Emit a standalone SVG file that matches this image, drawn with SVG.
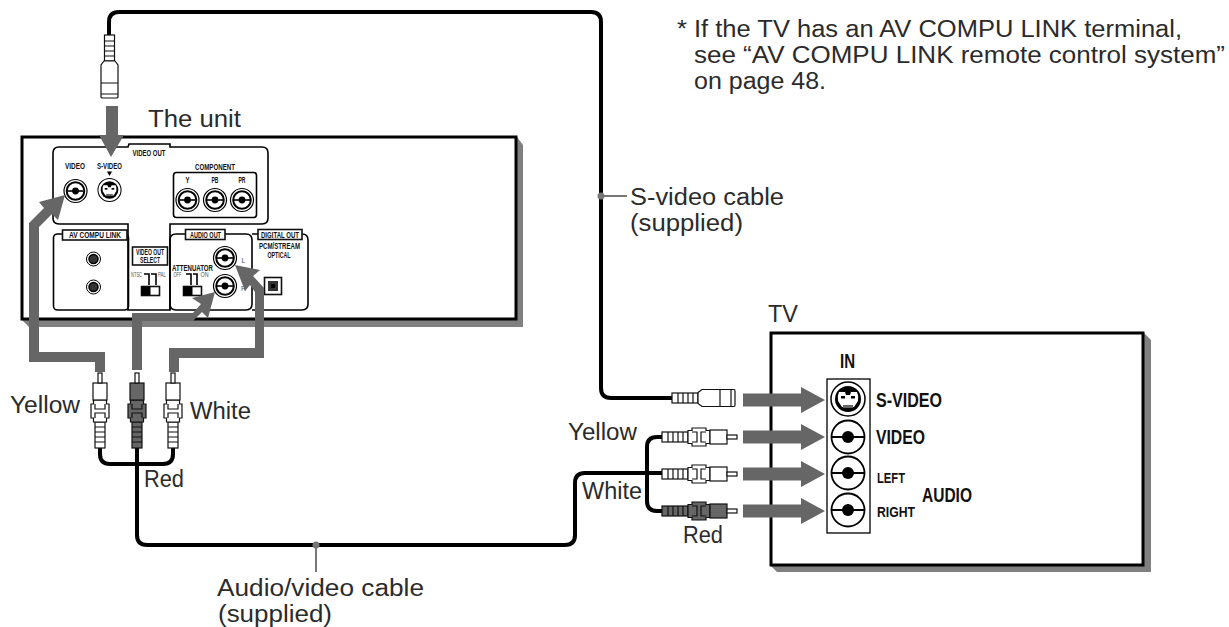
<svg xmlns="http://www.w3.org/2000/svg" width="1229" height="627" viewBox="0 0 1229 627">
<style>
text{font-family:"Liberation Sans",Arial,sans-serif;fill:#2b2b2b}
.l{font-size:23.500px}
.b{font-weight:bold;fill:#111}
.bl{font-size:20px}
.bs{font-size:15.500px}
.t{font-size:8.500px;text-anchor:middle}
.g{font-weight:normal;fill:#555;font-size:7px;text-anchor:middle}
.p{fill:#fff;stroke:#111;stroke-width:1.6}
.k{fill:none;stroke:#000;stroke-width:1.6}
.c{fill:none;stroke:#000;stroke-width:4}
.a{fill:#666}
.sh{fill:#808080}
.box{fill:#fff;stroke:#000;stroke-width:3}
</style>
<defs>
<g id="jack"><circle r="16.500" fill="#fff" stroke="#000" stroke-width="1.800"/><path d="M-16 0H16" stroke="#000" stroke-width="2"/><circle r="6" fill="#000"/></g>
<g id="sjack"><circle r="17" fill="#fff" stroke="#000" stroke-width="1.500"/><circle r="13" fill="#000"/><path d="M-9-7H-3L-2-4H2L3-7H9Q11-3 10 2L6 8H-6L-10 2Q-11-3-9-7Z" fill="#fff"/><rect x="-7" y="-3" width="4" height="2.500" fill="#000"/><rect x="3" y="-3" width="4" height="2.500" fill="#000"/><rect x="-5" y="6" width="10" height="3" fill="#666"/></g>
<g id="mj"><circle r="11.500" fill="#fff" stroke="#000" stroke-width="1.200"/><circle r="8.800" fill="#fff" stroke="#000" stroke-width="2"/><path d="M-8 0H8" stroke="#000" stroke-width="1.600"/><circle r="3.400" fill="#000"/></g>
<g id="rca" stroke="#111" stroke-width="1.200" fill="currentColor">
<rect x="0" y="-5" width="26" height="10"/>
<path d="M6-5V5M11-5V5M16-5V5M21-5V5" fill="none"/>
<path d="M26-6.500H30V-9H44V-6.500H48V6.500H44V9H30V6.500H26Z"/>
<path d="M30-5H35V5H30M44-5H39V5H44" fill="none"/>
<rect x="48" y="-7" width="17" height="14"/>
<rect x="65" y="-2" width="10" height="4" fill="#fff"/>
</g>
<g id="splug" stroke="#111" stroke-width="1.200" fill="#fff">
<rect x="0" y="-5" width="26" height="10"/>
<path d="M6-5V5M11-5V5M16-5V5M21-5V5" fill="none"/>
<path d="M26-5.500L30-8.500H62Q63-8.500 63-7V7Q63 8.500 62 8.500H30L26 5.500Z"/>
<path d="M48-8.500V8.500M59-8.500V8.500" fill="none"/>
</g>
<path id="arr" class="a" d="M0-6.500H58V-13L82 0 58 13V6.500H0Z"/>
</defs>

<g id="unit">
<path class="sh" d="M517 137L523 145V327H29L21 319Z"/>
<rect class="box" x="22" y="137" width="494" height="182"/>
<path class="k" d="M128 147H59Q53 147 53 153V218Q53 224 59 224H128V310H170V224H262Q268 224 268 218V153Q268 147 262 147H170V144H129Z"/>
<text class="b t" x="149" y="155.500" textLength="33" lengthAdjust="spacingAndGlyphs">VIDEO OUT</text>
<text class="b t" x="75" y="169" textLength="20" lengthAdjust="spacingAndGlyphs">VIDEO</text>
<text class="b t" x="109.500" y="169" textLength="25" lengthAdjust="spacingAndGlyphs">S-VIDEO</text>
<path d="M107 171.500H112L109.500 176Z" fill="#000"/>
<text class="b t" x="215" y="170" textLength="40" lengthAdjust="spacingAndGlyphs">COMPONENT</text>
<rect class="k" x="173.500" y="172.500" width="83" height="45" rx="3"/>
<text class="b t" x="187.500" y="183" textLength="4" lengthAdjust="spacingAndGlyphs">Y</text>
<text class="b t" x="215" y="183" textLength="7" lengthAdjust="spacingAndGlyphs">PB</text>
<text class="b t" x="242" y="183" textLength="7" lengthAdjust="spacingAndGlyphs">PR</text>
<use href="#mj" x="75.500" y="191"/>
<use href="#sjack" transform="translate(109.500 190) scale(.68)"/>
<use href="#mj" x="187.500" y="200"/>
<use href="#mj" x="215" y="200"/>
<use href="#mj" x="242" y="200"/>
<rect class="k" x="53.500" y="234" width="75" height="76" rx="4"/>
<rect class="p" x="62.500" y="230" width="64.500" height="10"/>
<text class="b t" x="95" y="238" textLength="52" lengthAdjust="spacingAndGlyphs">AV COMPU LINK</text>
<g fill="#fff" stroke="#000"><circle cx="93.500" cy="259" r="7"/><circle cx="93.500" cy="259" r="4.500" fill="#333" stroke-width="1.500"/><circle cx="93.500" cy="287" r="7"/><circle cx="93.500" cy="287" r="4.500" fill="#333" stroke-width="1.500"/></g>
<rect class="p" x="132.500" y="247" width="35" height="18"/>
<text class="b t" x="150" y="255" textLength="28" lengthAdjust="spacingAndGlyphs">VIDEO OUT</text>
<text class="b t" x="150" y="263" textLength="20" lengthAdjust="spacingAndGlyphs">SELECT</text>
<text class="g" x="136.500" y="277" textLength="11" lengthAdjust="spacingAndGlyphs">NTSC</text>
<text class="g" x="162" y="277" textLength="8" lengthAdjust="spacingAndGlyphs">PAL</text>
<path class="k" d="M144 274H149V285M156 285V274H151"/>
<rect class="p" x="141.500" y="286.500" width="18" height="9"/><rect x="141.500" y="286.500" width="9" height="9" fill="#000"/>
<path class="k" d="M170 310V240Q170 234 176 234H246Q252 234 252 240V304Q252 310 246 310H176Q170 310 170 304"/>
<rect class="p" x="185.500" y="229.500" width="39.500" height="10"/>
<text class="b t" x="205.500" y="237.500" textLength="31" lengthAdjust="spacingAndGlyphs">AUDIO OUT</text>
<text class="b t" x="192.500" y="271" textLength="41" lengthAdjust="spacingAndGlyphs">ATTENUATOR</text>
<text class="g" x="177.500" y="277" textLength="8" lengthAdjust="spacingAndGlyphs">OFF</text>
<text class="g" x="204.500" y="277" textLength="8" lengthAdjust="spacingAndGlyphs">ON</text>
<path class="k" d="M186 274H191V285M197 285V274H193"/>
<rect class="p" x="183.500" y="286.500" width="18" height="9"/><rect x="183.500" y="286.500" width="9" height="9" fill="#000"/>
<use href="#mj" x="225" y="258"/>
<use href="#mj" x="225" y="286"/>
<text class="g" x="243.500" y="263">L</text>
<text class="g" x="243.500" y="291">R</text>
<path class="k" d="M252 234H302Q308 234 308 240V304Q308 310 302 310H252"/>
<rect class="p" x="258" y="229.500" width="44" height="10"/>
<text class="b t" x="280" y="237.500" textLength="38" lengthAdjust="spacingAndGlyphs">DIGITAL OUT</text>
<text class="b t" x="279.500" y="249" textLength="41" lengthAdjust="spacingAndGlyphs">PCM/STREAM</text>
<text class="b t" x="279" y="258" textLength="23" lengthAdjust="spacingAndGlyphs">OPTICAL</text>
<rect class="p" x="264.500" y="277.500" width="17" height="17"/>
<rect x="268" y="281" width="10" height="10" fill="#333"/><rect x="271" y="284" width="4" height="4" fill="#000"/>
<text class="l" x="148" y="127" textLength="93" lengthAdjust="spacingAndGlyphs">The unit</text>
</g>

<g id="tv">
<path class="sh" d="M1144 333L1151 340V572H777L770 565Z"/>
<rect class="box" x="771" y="333" width="372" height="232"/>
<text class="l" x="768" y="322" textLength="30" lengthAdjust="spacingAndGlyphs">TV</text>
<rect x="827" y="379" width="43" height="154" fill="#fff" stroke="#000" stroke-width="1.300"/>
<use href="#sjack" x="848" y="399"/>
<use href="#jack" x="848" y="437"/>
<use href="#jack" x="848" y="473"/>
<use href="#jack" x="848" y="510"/>
<text class="b bl" x="840" y="368" textLength="15" lengthAdjust="spacingAndGlyphs">IN</text>
<text class="b bl" x="876" y="407" textLength="66" lengthAdjust="spacingAndGlyphs">S-VIDEO</text>
<text class="b bl" x="876" y="444" textLength="49" lengthAdjust="spacingAndGlyphs">VIDEO</text>
<text class="b bs" x="877" y="483" textLength="28" lengthAdjust="spacingAndGlyphs">LEFT</text>
<text class="b bs" x="877" y="517" textLength="38" lengthAdjust="spacingAndGlyphs">RIGHT</text>
<text class="b bl" x="922" y="502" textLength="50" lengthAdjust="spacingAndGlyphs">AUDIO</text>
</g>

<g id="connectors">
<path class="c" d="M109 35V22Q109 12 119 12H591Q601 12 601 22V388Q601 398 611 398H672"/>
<path class="c" d="M100 448V454Q100 464 110 464H163Q173 464 173 454V448M137 448V535Q137 545 147 545H565Q575 545 575 535V483Q575 473 585 473H662"/>
<path class="c" d="M662 437H657Q647 437 647 447V501Q647 511 657 511H662"/>
<path d="M601 196H627M316 545V572" fill="none" stroke="#777" stroke-width="2"/>
<circle cx="601" cy="196" r="3.500" fill="#777"/><circle cx="316" cy="545" r="3.500" fill="#777"/>
<path class="a" d="M106 106H118V135H124L111 157 99 135H106Z"/>
<path class="a" d="M105 372V352H39V227L52 214 58 220 65 195 39 202 44 208 29 223V362H95V372Z"/>
<path class="a" d="M132 370V313H193L201 304 192 298 215 292 208 318 202 312 193 321H142V370Z"/>
<path class="a" d="M169 372V348H255V292L250 285 245 291 235 265 260 270 253 276 264 288V358H179V372Z"/>
<use href="#arr" x="743" y="400"/>
<use href="#arr" x="743" y="437"/>
<use href="#arr" x="743" y="474"/>
<use href="#arr" x="743" y="511"/>
</g>

<g id="plugs">
<use href="#splug" transform="translate(109.500 35) rotate(90)"/>
<use href="#rca" color="#fff" transform="translate(100 448) rotate(-90)"/>
<use href="#rca" color="#666" transform="translate(137 448) rotate(-90)"/>
<use href="#rca" color="#fff" transform="translate(173 448) rotate(-90)"/>
<use href="#splug" x="672" y="398"/>
<use href="#rca" color="#fff" x="662" y="437"/>
<use href="#rca" color="#fff" x="662" y="474"/>
<use href="#rca" color="#666" x="662" y="511"/>
</g>

<g id="labels">
<text class="l" x="677" y="37" textLength="505" lengthAdjust="spacingAndGlyphs">* If the TV has an AV COMPU LINK terminal,</text>
<text class="l" x="694" y="63" textLength="531" lengthAdjust="spacingAndGlyphs">see “AV COMPU LINK remote control system”</text>
<text class="l" x="694" y="89" textLength="132" lengthAdjust="spacingAndGlyphs">on page 48.</text>
<text class="l" x="630" y="205" textLength="154" lengthAdjust="spacingAndGlyphs">S-video cable</text>
<text class="l" x="630" y="231" textLength="113" lengthAdjust="spacingAndGlyphs">(supplied)</text>
<text class="l" x="217" y="596" textLength="207" lengthAdjust="spacingAndGlyphs">Audio/video cable</text>
<text class="l" x="218" y="622" textLength="114" lengthAdjust="spacingAndGlyphs">(supplied)</text>
<text class="l" x="10" y="413" textLength="70" lengthAdjust="spacingAndGlyphs">Yellow</text>
<text class="l" x="190" y="419" textLength="61" lengthAdjust="spacingAndGlyphs">White</text>
<text class="l" x="144" y="487" textLength="40" lengthAdjust="spacingAndGlyphs">Red</text>
<text class="l" x="568" y="440" textLength="69" lengthAdjust="spacingAndGlyphs">Yellow</text>
<text class="l" x="582" y="499" textLength="60" lengthAdjust="spacingAndGlyphs">White</text>
<text class="l" x="683" y="543" textLength="40" lengthAdjust="spacingAndGlyphs">Red</text>
</g>
</svg>
